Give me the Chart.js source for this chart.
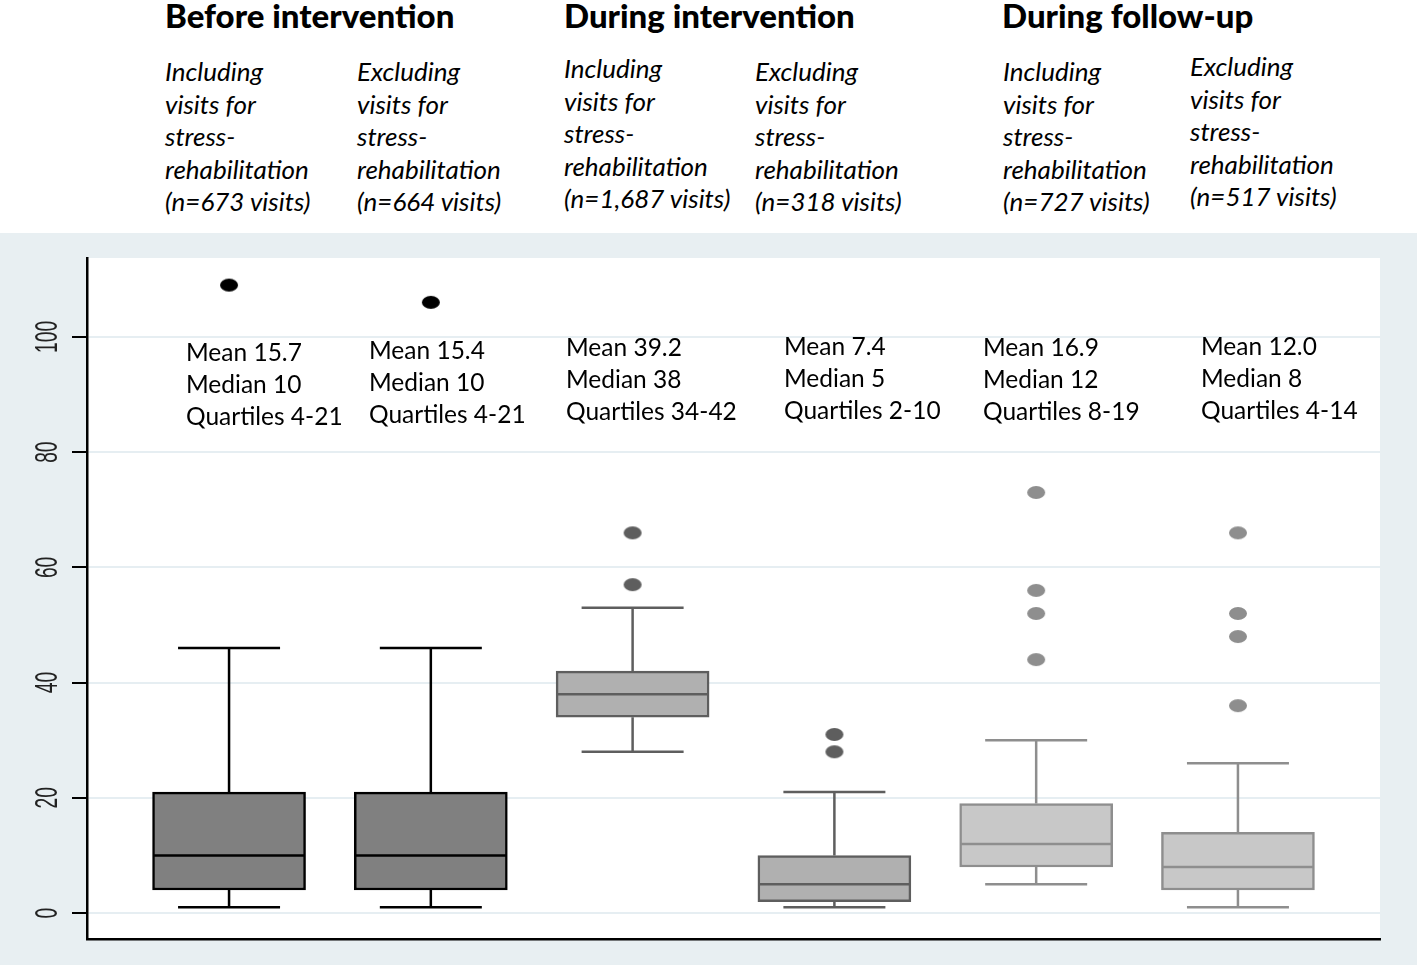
<!DOCTYPE html>
<html><head><meta charset="utf-8">
<script src="https://cdn.jsdelivr.net/npm/chart.js@4.4.0/dist/chart.umd.min.js"></script>
<style>
html,body{margin:0;padding:0;background:#fff;}
#wrap{position:relative;width:1417px;height:965px;overflow:hidden;background:#fff;}
#panel{position:absolute;left:0;top:233px;width:1417px;height:732px;}
.h{position:absolute;font-family:Lato,sans-serif;font-weight:900;font-size:33px;line-height:30px;white-space:nowrap;color:#000;}
.sub{position:absolute;font-family:Lato,sans-serif;font-style:italic;font-size:26px;line-height:32.5px;white-space:nowrap;color:#000;}
.ann{position:absolute;font-family:Lato,sans-serif;font-size:24.5px;line-height:32px;white-space:nowrap;color:#000;}
</style></head>
<body>
<div id="wrap">
  <div id="panel"><canvas id="c" width="1417" height="732"></canvas></div>
  <div id="texts"></div>
</div>
<script>
// ---- data ----
const categories = ['Before, including','Before, excluding','During, including','During, excluding','Follow-up, including','Follow-up, excluding'];
const whiskerLow  = [1, 1, 28, 1, 5, 1];
const quartile1   = [4, 4, 34, 2, 8, 4];
const medians     = [10, 10, 38, 5, 12, 8];
const quartile3   = [21, 21, 42, 10, 19, 14];
const whiskerHigh = [46, 46, 53, 21, 30, 26];
const outliers    = [[109], [106], [57, 66], [28, 31], [44, 52, 56, 73], [36, 48, 52, 66]];
const means       = ['15.7', '15.4', '39.2', '7.4', '16.9', '12.0'];
const yTicks      = [0, 20, 40, 60, 80, 100];
const periodTitles = ['Before intervention', 'During intervention', 'During follow-up'];
const subgroupLines = [
  ['Including','visits for','stress-','rehabilitation','(n=673 visits)'],
  ['Excluding','visits for','stress-','rehabilitation','(n=664 visits)'],
  ['Including','visits for','stress-','rehabilitation','(n=1,687 visits)'],
  ['Excluding','visits for','stress-','rehabilitation','(n=318 visits)'],
  ['Including','visits for','stress-','rehabilitation','(n=727 visits)'],
  ['Excluding','visits for','stress-','rehabilitation','(n=517 visits)']
];

// ---- styles / layout ----
const fills   = ['#808080','#808080','#b0b0b0','#b0b0b0','#c8c8c8','#c8c8c8'];
const borders = ['#000000','#000000','#5e5e5e','#5e5e5e','#8e8e8e','#8e8e8e'];
const titlePos = [[165,0],[564,0],[1002,0]];
const subPos = [[165,55],[357,55],[564,52],[755,55],[1003,55],[1190,50]];
const annPos = [[186,336],[369,334],[566,331],[784,330],[983,331],[1201,330]];
const BOX_W = 153, CAP_W = 102;

const texts = document.getElementById('texts');
function addDiv(cls, left, top, html){
  const d = document.createElement('div');
  d.className = cls; d.style.left = left+'px'; d.style.top = top+'px'; d.innerHTML = html;
  texts.appendChild(d);
}
periodTitles.forEach((t,i)=>addDiv('h', titlePos[i][0], titlePos[i][1], t));
subgroupLines.forEach((lines,i)=>addDiv('sub', subPos[i][0], subPos[i][1], lines.join('<br>')));
categories.forEach((c,i)=>addDiv('ann', annPos[i][0], annPos[i][1],
  'Mean ' + means[i] + '<br>Median ' + medians[i] + '<br>Quartiles ' + quartile1[i] + '-' + quartile3[i]));

function makeDot(color){
  const cv = document.createElement('canvas');
  cv.width = 20; cv.height = 15;
  const g = cv.getContext('2d');
  g.fillStyle = color;
  g.beginPath(); g.ellipse(10, 7.5, 9, 6.5, 0, 0, Math.PI*2); g.fill();
  return cv;
}

const boxPlugin = {
  id: 'boxes',
  beforeDraw(chart){
    const {ctx, chartArea:a} = chart;
    ctx.save();
    ctx.fillStyle = '#e8eff2';
    ctx.fillRect(0, 0, chart.width, chart.height);
    ctx.fillStyle = '#ffffff';
    ctx.fillRect(a.left, a.top, a.right - a.left, a.bottom - a.top);
    ctx.restore();
  },
  afterDatasetsDraw(chart){
    const {ctx} = chart, xs = chart.scales.x, ys = chart.scales.y;
    ctx.save();
    ctx.lineWidth = 2.5;
    categories.forEach((c,i)=>{
      const cx = xs.getPixelForValue(i+1);
      ctx.strokeStyle = borders[i];
      ctx.beginPath();
      ctx.moveTo(cx, ys.getPixelForValue(quartile3[i])); ctx.lineTo(cx, ys.getPixelForValue(whiskerHigh[i]));
      ctx.moveTo(cx - CAP_W/2, ys.getPixelForValue(whiskerHigh[i])); ctx.lineTo(cx + CAP_W/2, ys.getPixelForValue(whiskerHigh[i]));
      ctx.moveTo(cx, ys.getPixelForValue(quartile1[i])); ctx.lineTo(cx, ys.getPixelForValue(whiskerLow[i]));
      ctx.moveTo(cx - CAP_W/2, ys.getPixelForValue(whiskerLow[i])); ctx.lineTo(cx + CAP_W/2, ys.getPixelForValue(whiskerLow[i]));
      ctx.moveTo(cx - BOX_W/2 + 1, ys.getPixelForValue(medians[i])); ctx.lineTo(cx + BOX_W/2 - 1, ys.getPixelForValue(medians[i]));
      ctx.stroke();
    });
    ctx.restore();
  },
  afterDraw(chart){
    const {ctx} = chart, ys = chart.scales.y;
    ctx.save();
    ctx.fillStyle = '#222';
    ctx.font = '31px "Liberation Sans", Arial, sans-serif';
    ctx.textAlign = 'center';
    ctx.textBaseline = 'middle';
    yTicks.forEach(v=>{
      ctx.save();
      ctx.translate(47, ys.getPixelForValue(v));
      ctx.rotate(-Math.PI/2);
      ctx.scale(0.62, 1);
      ctx.fillText(String(v), 0, 1);
      ctx.restore();
    });
    ctx.restore();
  }
};

const datasets = [{
  type: 'bar',
  data: quartile1.map((q,i)=>({x: i+1, y: [q, quartile3[i]]})),
  backgroundColor: fills,
  borderColor: borders,
  borderWidth: 2.5,
  borderSkipped: false,
  barThickness: BOX_W,
  order: 2
}];
outliers.forEach((list,i)=>{
  datasets.push({
    type: 'scatter',
    data: list.map(v=>({x: i+1, y: v})),
    pointStyle: makeDot(borders[i]),
    pointRadius: 7,
    order: 1
  });
});

new Chart(document.getElementById('c'), {
  type: 'bar',
  data: { datasets },
  options: {
    responsive: false,
    animation: false,
    devicePixelRatio: 1,
    layout: { padding: { left: 0, right: 37, top: 25, bottom: 26 } },
    plugins: { legend: { display: false }, tooltip: { enabled: false } },
    scales: {
      x: {
        type: 'linear', min: 0.296, max: 6.704, offset: false,
        ticks: { display: false },
        grid: { display: false, drawTicks: false, offset: false },
        border: { display: true, color: '#000', width: 2.5 },
        afterFit: s => { s.height = 0; }
      },
      y: {
        type: 'linear', min: -4.5, max: 113.7,
        afterBuildTicks: s => { s.ticks = yTicks.map(v=>({value: v})); },
        afterFit: s => { s.width = 87; },
        ticks: { display: false },
        grid: { color: '#e6eef2', lineWidth: 2, tickColor: '#000', tickWidth: 2, tickLength: 15, drawTicks: true },
        border: { display: true, color: '#000', width: 2.5 }
      }
    }
  },
  plugins: [boxPlugin]
});
</script>
</body></html>
